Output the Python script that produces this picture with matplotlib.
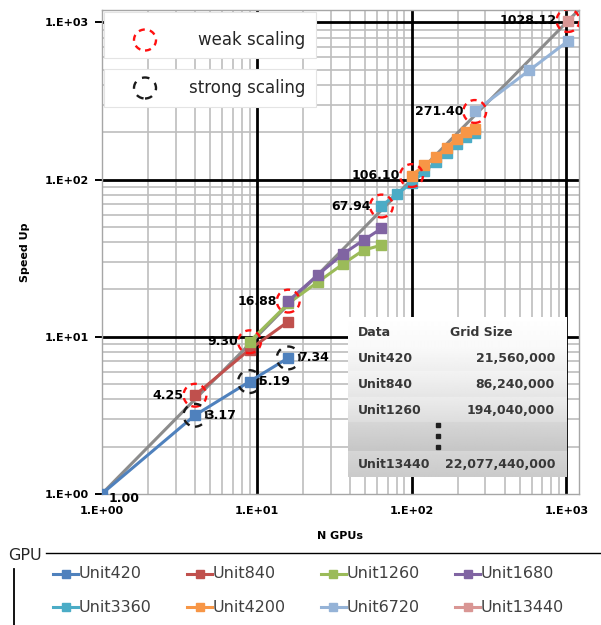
import numpy as np
import matplotlib
matplotlib.use('Agg')
import matplotlib.pyplot as plt
from matplotlib.lines import Line2D
from matplotlib.patches import Rectangle, Ellipse
from matplotlib.ticker import FixedLocator, FuncFormatter, LogLocator, NullFormatter

# ---------------- data ----------------
series_names = ['Unit420', 'Unit840', 'Unit1260', 'Unit1680',
                'Unit3360', 'Unit4200', 'Unit6720', 'Unit13440']
series_colors = ['#4F81BD', '#C0504D', '#9BBB59', '#8064A2',
                 '#4BACC6', '#F79646', '#95B3D7', '#D99694']

gpus_420 = [1, 4, 9, 16]
speed_420 = [1.00, 3.17, 5.19, 7.34]
gpus_840 = [4, 9, 16]
speed_840 = [4.25, 8.3, 12.5]
gpus_1260 = [9, 16, 25, 36, 49, 64]
speed_1260 = [9.30, 16.3, 22.4, 29.0, 35.6, 38.3]
gpus_1680 = [16, 25, 36, 49, 64]
speed_1680 = [16.88, 24.9, 33.6, 41.2, 48.9]
gpus_3360 = [64, 81, 100, 121, 144, 169, 196, 225, 256]
speed_3360 = [67.94, 81.6, 94.5, 113, 129, 148, 168, 186, 197]
gpus_4200 = [100, 121, 144, 169, 196, 225, 256]
speed_4200 = [106.10, 123.5, 139.4, 160, 182.5, 201, 211]
gpus_6720 = [256, 576, 1024]
speed_6720 = [271.40, 496, 762]
gpus_13440 = [1024]
speed_13440 = [1028.12]

series_x = [gpus_420, gpus_840, gpus_1260, gpus_1680,
            gpus_3360, gpus_4200, gpus_6720, gpus_13440]
series_y = [speed_420, speed_840, speed_1260, speed_1680,
            speed_3360, speed_4200, speed_6720, speed_13440]

ideal_x = [1, 1200]
ideal_y = [1, 1200]

weak_x = [4, 9, 16, 64, 100, 256, 1024]
weak_y = [4.25, 9.30, 16.88, 67.94, 106.10, 271.40, 1028.12]
strong_x = [4, 9, 16]
strong_y = [3.17, 5.19, 7.34]
base_x = [1]
base_y = [1.00]

table_header = ['Data', 'Grid Size']
table_names = ['Unit420', 'Unit840', 'Unit1260', 'Unit13440']
table_sizes = ['21,560,000', '86,240,000', '194,040,000', '22,077,440,000']

# ---------------- figure ----------------
W, H = 601, 625
fig = plt.figure(figsize=(W / 100, H / 100), dpi=100)
fig.patch.set_facecolor('white')


def fx(px):
    return px / W


def fy(py):
    return 1 - py / H


ax_l, ax_r, ax_t, ax_b = 101.7, 578.7, 10.0, 494.0
ax = fig.add_axes([fx(ax_l), fy(ax_b), (ax_r - ax_l) / W, (ax_b - ax_t) / H])
ax.set_xscale('log')
ax.set_yscale('log')
ax.set_xlim(1, 1200)
ax.set_ylim(1, 1200)

decades = [1, 10, 100, 1000]
fmt = FuncFormatter(lambda v, _: "1.E+%02d" % int(round(np.log10(v))))
for axis in (ax.xaxis, ax.yaxis):
    axis.set_major_locator(FixedLocator(decades))
    axis.set_major_formatter(fmt)
    axis.set_minor_locator(LogLocator(base=10, subs=np.arange(2, 10)))
    axis.set_minor_formatter(NullFormatter())

ax.grid(which='minor', color='#BEBEBE', lw=1.2, zorder=0)
ax.grid(which='major', visible=False)
for v in decades[1:]:
    ax.axvline(v, color='black', lw=2.0, zorder=0.6)
    ax.axhline(v, color='black', lw=2.0, zorder=0.6)
ax.set_axisbelow(True)

for s in ax.spines.values():
    s.set_color('#A6A6A6')
    s.set_linewidth(1.0)

ax.tick_params(axis='y', which='major', length=5, width=1.4, color='black',
               direction='out', pad=4, labelsize=8)
ax.tick_params(axis='x', which='major', length=0, pad=9, labelsize=8)
ax.tick_params(which='minor', length=0)
for lab in ax.get_xticklabels() + ax.get_yticklabels():
    lab.set_fontweight('bold')

ax.set_ylabel('Speed Up', fontsize=8, fontweight='bold')
ax.yaxis.set_label_coords((30 - ax_l) / (ax_r - ax_l), 0.5)
ax.set_xlabel('N GPUs', fontsize=8, fontweight='bold')
ax.xaxis.set_label_coords(0.5, (ax_b - 531) / (ax_b - ax_t))

# ideal line
ax.plot(ideal_x, ideal_y, color='#8C8C8C', lw=2.2, zorder=2.5, solid_capstyle='butt')

# series
for xs, ys, c, n in zip(series_x, series_y, series_colors, series_names):
    ax.plot(xs, ys, color=c, lw=2.2, marker='s', ms=6.5, mec=c, mfc=c,
            zorder=3, label=n)

# circles
ax.scatter(weak_x, weak_y, s=270, facecolors='none', edgecolors='#FF1010',
           linestyles=(0, (2.6, 2.2)), linewidths=1.7, zorder=5)
ax.scatter(strong_x, strong_y, s=270, facecolors='none', edgecolors='#1A1A1A',
           linestyles=(0, (3.2, 3.0)), linewidths=1.7, zorder=5)

# labels
for x, y in zip(weak_x, weak_y):
    ax.annotate("%.2f" % y, (x, y), xytext=(-8, 0), textcoords='offset points',
                ha='right', va='center', fontsize=9, fontweight='bold', zorder=6)
for x, y in zip(strong_x, strong_y):
    ax.annotate("%.2f" % y, (x, y), xytext=(7, 0), textcoords='offset points',
                ha='left', va='center', fontsize=9, fontweight='bold', zorder=6)
for x, y in zip(base_x, base_y):
    ax.annotate("%.2f" % y, (x, y), xytext=(5, -3), textcoords='offset points',
                ha='left', va='center', fontsize=9, fontweight='bold', zorder=6)

# ---------------- top-left key boxes ----------------
for (y0, y1) in [(12, 58), (69, 107)]:
    fig.add_artist(Rectangle((fx(104), fy(y1)), (316 - 104) / W, (y1 - y0) / H,
                             transform=fig.transFigure, fc='white',
                             ec='#E4E4E4', lw=0.8, zorder=2))
fig.add_artist(Ellipse((fx(145), fy(40)), 22 / W, 21 / H, transform=fig.transFigure,
                       fc='none', ec='#FF1010', lw=1.7, ls=(0, (2.6, 2.2)), zorder=3))
fig.add_artist(Ellipse((fx(145), fy(88)), 22 / W, 21 / H, transform=fig.transFigure,
                       fc='none', ec='#1A1A1A', lw=1.7, ls=(0, (3.2, 3.0)), zorder=3))
fig.text(fx(305), fy(40), 'weak scaling', ha='right', va='center', fontsize=12,
         color='#262626', zorder=3)
fig.text(fx(305), fy(88), 'strong scaling', ha='right', va='center', fontsize=12,
         color='#262626', zorder=3)

# ---------------- data table ----------------
tl, tr, tt, tb = 348, 567, 317, 477
tax = fig.add_axes([fx(tl), fy(tb), (tr - tl) / W, (tb - tt) / H])
tax.set_xlim(tl, tr)
tax.set_ylim(tb, tt)
tax.axis('off')
bounds = [317, 345, 371, 397, 422, 451, 477]
tops = [255, 250, 243, 236, 214, 214]
bots = [249, 238, 229, 221, 198, 202]
grad = np.zeros((tb - tt, 1))
for i in range(len(bounds) - 1):
    b0, b1 = bounds[i], bounds[i + 1]
    for yy in range(b0, b1):
        t = (yy - b0) / (b1 - b0)
        grad[yy - tt, 0] = tops[i] + (bots[i] - tops[i]) * t
tax.imshow(grad, cmap='gray', vmin=0, vmax=255, extent=(tl, tr, tb, tt),
           aspect='auto', interpolation='bilinear')
tcol = '#383838'
tax.text(358, 332, table_header[0], ha='left', va='center', fontsize=9,
         fontweight='bold', color=tcol)
tax.text(450, 332, table_header[1], ha='left', va='center', fontsize=9,
         fontweight='bold', color=tcol)
row_ys = [358, 384, 410, 464]
for name, size, ry in zip(table_names, table_sizes, row_ys):
    tax.text(358, ry, name, ha='left', va='center', fontsize=9,
             fontweight='bold', color=tcol)
    tax.text(555, ry, size, ha='right', va='center', fontsize=9,
             fontweight='bold', color=tcol)
tax.plot([438, 438, 438], [425, 436, 447], ls='none', marker='s', ms=3.2,
         color='#202020')

# ---------------- bottom legend ----------------
fig.text(fx(8), fy(556), 'GPU', ha='left', va='center', fontsize=11.5,
         color='#262626')
fig.add_artist(Line2D([fx(46), fx(601)], [fy(553), fy(553)],
                      transform=fig.transFigure, color='black', lw=1.0))
fig.add_artist(Line2D([fx(14), fx(14)], [fy(569), fy(625)],
                      transform=fig.transFigure, color='black', lw=1.3))
col_px = [53, 187, 321, 455]
row_px = [574, 607]
for i, (n, c) in enumerate(zip(series_names, series_colors)):
    x0 = col_px[i % 4]
    y0 = row_px[i // 4]
    fig.add_artist(Line2D([fx(x0), fx(x0 + 25)], [fy(y0), fy(y0)],
                          transform=fig.transFigure, color=c, lw=2.2))
    fig.add_artist(Line2D([fx(x0 + 12.5)], [fy(y0)], transform=fig.transFigure,
                          ls='none', marker='s', ms=5.5, color=c))
    fig.text(fx(x0 + 26), fy(y0), n, ha='left', va='center', fontsize=11.5,
             color='#404040')

fig.savefig('out.png', dpi=100, facecolor='white')
